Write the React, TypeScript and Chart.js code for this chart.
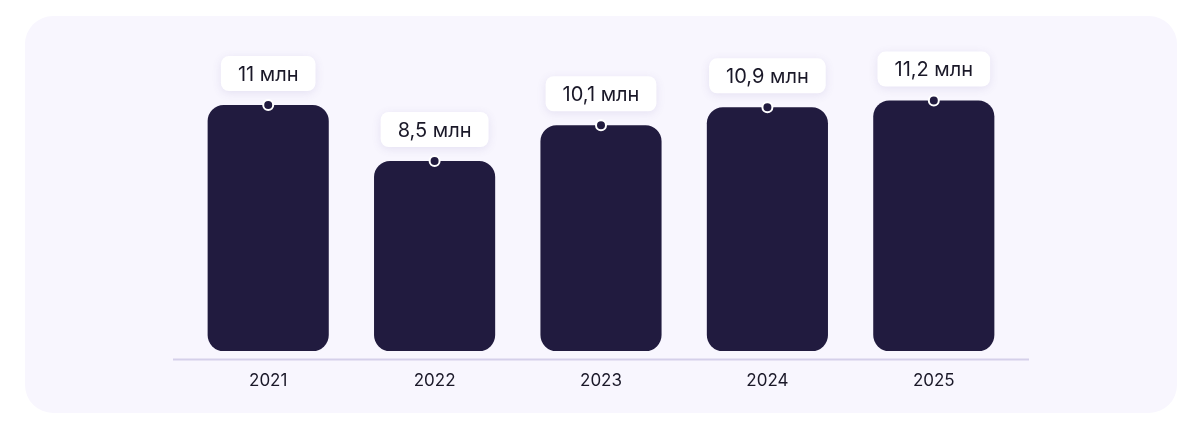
import { useEffect, useRef } from 'react';
import { Chart, registerables, type ChartConfiguration, type Plugin } from 'chart.js';

Chart.register(...registerables);

// data
const YEARS = ['2021', '2022', '2023', '2024', '2025'];
const VALUES = [11, 8.5, 10.1, 10.9, 11.2];
const UNIT = 'млн';

const BAR = '#211b3f';
const TEXT = '#1a1828';
const CARD = '#f8f6fe';
const AXIS = '#d5d0ea';
const FONT = 'Inter, "Noto Sans", sans-serif';

const fmt = (v: number) => `${String(v).replace('.', ',')} ${UNIT}`;

// baseline drawn a little wider than the category band
const baseline: Plugin<'bar'> = {
  id: 'baseline',
  beforeDatasetsDraw(chart) {
    const { ctx, chartArea } = chart;
    ctx.save();
    ctx.strokeStyle = AXIS;
    ctx.lineWidth = 2;
    ctx.beginPath();
    ctx.moveTo(chartArea.left - 12, chartArea.bottom);
    ctx.lineTo(chartArea.right + 12, chartArea.bottom);
    ctx.stroke();
    ctx.restore();
  },
};

// white value bubbles + dot marker on each bar top
const valueTags: Plugin<'bar'> = {
  id: 'valueTags',
  afterDatasetsDraw(chart) {
    const { ctx } = chart;
    const meta = chart.getDatasetMeta(0);
    ctx.save();
    ctx.font = `400 20px ${FONT}`;
    meta.data.forEach((el, i) => {
      const { x, y } = el.getProps(['x', 'y'], true) as { x: number; y: number };
      const text = fmt(VALUES[i]);
      const w = ctx.measureText(text).width + 34;
      const h = 35;
      const bottom = y - 14;

      ctx.save();
      ctx.shadowColor = 'rgba(90, 70, 160, 0.12)';
      ctx.shadowBlur = 10;
      ctx.shadowOffsetY = 2;
      ctx.fillStyle = '#ffffff';
      ctx.beginPath();
      ctx.roundRect(x - w / 2, bottom - h, w, h, 8);
      ctx.fill();
      ctx.restore();

      ctx.fillStyle = TEXT;
      ctx.textAlign = 'center';
      ctx.textBaseline = 'middle';
      ctx.fillText(text, x, bottom - h / 2 + 1);

      ctx.beginPath();
      ctx.arc(x, y, 5, 0, Math.PI * 2);
      ctx.fillStyle = BAR;
      ctx.fill();
      ctx.lineWidth = 2;
      ctx.strokeStyle = '#ffffff';
      ctx.stroke();
    });
    ctx.restore();
  },
};

export default function App() {
  const canvasRef = useRef<HTMLCanvasElement | null>(null);

  useEffect(() => {
    const canvas = canvasRef.current;
    if (!canvas) return;

    const config: ChartConfiguration<'bar'> = {
      type: 'bar',
      data: {
        labels: YEARS,
        datasets: [
          {
            data: VALUES,
            backgroundColor: BAR,
            borderRadius: 16,
            borderSkipped: false,
            categoryPercentage: 1,
            barPercentage: 0.728,
          },
        ],
      },
      options: {
        animation: false,
        responsive: true,
        maintainAspectRatio: false,
        layout: { padding: { left: 160, right: 160, top: 22, bottom: 11 } },
        plugins: {
          legend: { display: false },
          tooltip: { enabled: false },
        },
        scales: {
          x: {
            grid: { display: false, drawTicks: false },
            border: { display: false },
            ticks: {
              color: TEXT,
              padding: 11,
              font: { family: FONT, size: 17 },
            },
          },
          y: {
            display: false,
            min: -0.38,
            max: 14,
          },
        },
      },
      plugins: [baseline, valueTags],
    };

    const chart = new Chart(canvas, config);
    return () => chart.destroy();
  }, []);

  return (
    <div
      style={{
        position: 'absolute',
        left: 0,
        top: 0,
        width: 1194,
        height: 432,
        background: '#ffffff',
      }}
    >
      <div
        style={{
          position: 'absolute',
          left: 25,
          top: 16,
          width: 1152,
          height: 397,
          borderRadius: 28,
          background: CARD,
        }}
      >
        <canvas ref={canvasRef} role="img" aria-label="Значения по годам, млн" />
      </div>
    </div>
  );
}
